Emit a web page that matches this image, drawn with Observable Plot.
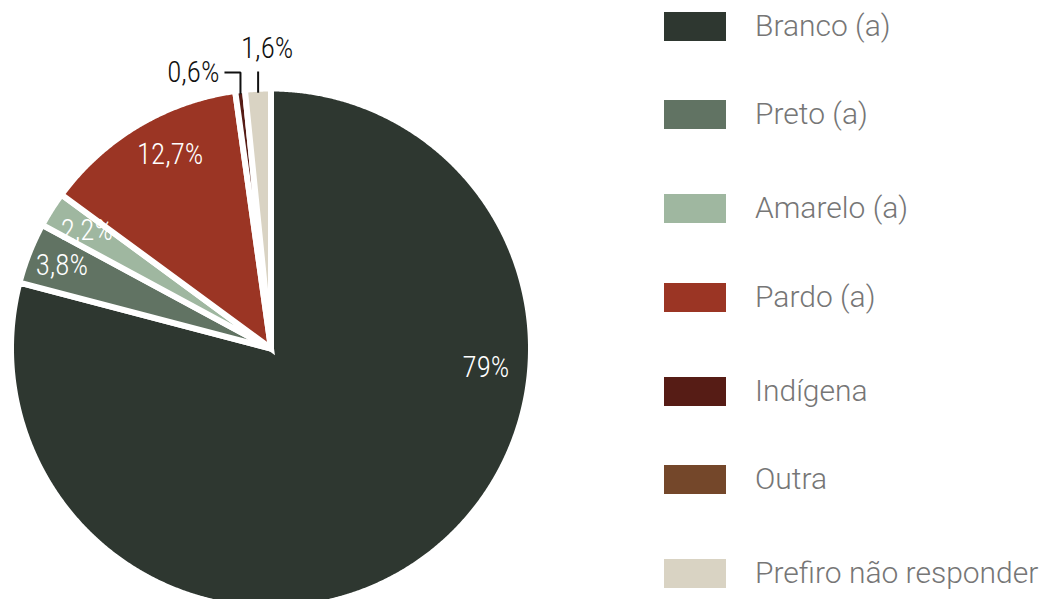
<!DOCTYPE html>
<html>
<head>
<meta charset="utf-8">
<script src="https://cdn.jsdelivr.net/npm/d3@7"></script>
<script src="https://cdn.jsdelivr.net/npm/@observablehq/plot@0.6"></script>
<style>
  html, body { margin: 0; padding: 0; background: #fff; }
  #wrap { position: relative; width: 1046px; height: 599px; overflow: hidden; }
  #legend { position: absolute; left: 664px; top: 12px; font-family: Roboto, Lato, sans-serif; font-weight: 300; }
  .row { position: absolute; left: 0; height: 29px; width: 400px; white-space: nowrap; }
  .sw { position: absolute; left: 0; top: 0; width: 62px; height: 29px; }
  .lb { position: absolute; left: 91px; top: -6px; font-size: 30px; line-height: 40px; color: #767676; }
</style>
</head>
<body>
<div id="wrap"><div id="chart"></div><div id="legend"></div></div>
<script>
// ---- data ----
const categories = ["Branco (a)", "Preto (a)", "Amarelo (a)", "Pardo (a)", "Indígena", "Outra", "Prefiro não responder"];
const values = [79, 3.8, 2.2, 12.7, 0.6, 0, 1.6];
const labels = ["79%", "3,8%", "2,2%", "12,7%", "0,6%", "", "1,6%"];
const colors = ["#2e3730", "#617363", "#9fb7a0", "#9b3524", "#561c15", "#74472a", "#d9d3c3"];

// ---- layout (pixels / polar placement) ----
const W = 1046, H = 599, CX = 270.5, CY = 348, R = 260;
// label placement: angle (deg clockwise from 12 o'clock, null = slice middle), radius fraction
const labelAngle = [95, null, 302.5, 332.5, null, null, null];
const labelRadius = [0.83, 0.865, 0.84, 0.84, null, null, null];

const rows = categories.map((c, i) => ({cat: c, value: values[i], label: labels[i], color: colors[i], i}));
const arcs = d3.pie().sort(null).value(d => d.value).startAngle(0).endAngle(2 * Math.PI)(rows);
const polar = (a, r) => [r * Math.sin(a), r * Math.cos(a)];

// slice outlines
const slicePts = [];
for (const a of arcs) {
  if (a.data.value <= 0) continue;
  slicePts.push({cat: a.data.cat, x: 0, y: 0});
  const n = Math.max(4, Math.ceil((a.endAngle - a.startAngle) / 0.005));
  for (let k = 0; k <= n; k++) {
    const t = a.startAngle + (a.endAngle - a.startAngle) * k / n;
    const [x, y] = polar(t, 1);
    slicePts.push({cat: a.data.cat, x, y});
  }
}

const inside = [], outside = [], leaders = [];
arcs.forEach(a => {
  const i = a.data.i;
  if (!a.data.label) return;
  const mid = (a.startAngle + a.endAngle) / 2;
  if (labelRadius[i] != null) {
    const ang = labelAngle[i] != null ? labelAngle[i] * Math.PI / 180 : mid;
    const [x, y] = polar(ang, labelRadius[i]);
    inside.push({x, y, label: a.data.label});
  }
});
// outside labels with leader lines (Indígena, Prefiro)
{
  const a = arcs[4], mid = (a.startAngle + a.endAngle) / 2;
  const [x0, y0] = polar(mid, 0.985);
  const yl = 276 / R;
  leaders.push({k: "ind", x: x0, y: y0}, {k: "ind", x: x0, y: yl}, {k: "ind", x: x0 - 16 / R, y: yl});
  outside.push({x: x0 - 21 / R, y: yl, label: a.data.label, anchor: "end"});
}
{
  const a = arcs[6], mid = (a.startAngle + a.endAngle) / 2;
  const [x0, y0] = polar(mid, 0.985);
  leaders.push({k: "pref", x: x0, y: y0}, {k: "pref", x: x0, y: 277 / R});
  outside.push({x: x0 + 9 / R, y: 300 / R, label: a.data.label, anchor: "middle"});
}

const labelFont = "'Roboto Condensed', 'DejaVu Sans Condensed', sans-serif";

const chart = Plot.plot({
  width: W, height: H,
  margin: 0,
  x: {domain: [-CX / R, (W - CX) / R], range: [0, W], axis: null},
  y: {domain: [-(H - CY) / R, CY / R], range: [H, 0], axis: null},
  color: {domain: categories, range: colors},
  style: {background: "transparent", overflow: "visible"},
  marks: [
    Plot.line(slicePts, {x: "x", y: "y", z: "cat", fill: "cat", stroke: "white", strokeWidth: 6, curve: "linear-closed", strokeLinejoin: "miter", strokeMiterlimit: 4}),
    Plot.line(leaders, {x: "x", y: "y", z: "k", stroke: "#111", strokeWidth: 2, strokeLinejoin: "miter", strokeLinecap: "butt"}),
    Plot.text(inside, {x: "x", y: "y", text: "label", fill: "white", fontSize: 29, fontWeight: 300, fontFamily: labelFont}),
    Plot.text(outside, {x: "x", y: "y", text: "label", fill: "#111", fontSize: 29, fontWeight: 300, fontFamily: labelFont, textAnchor: "end", filter: d => d.anchor === "end"}),
    Plot.text(outside, {x: "x", y: "y", text: "label", fill: "#111", fontSize: 29, fontWeight: 300, fontFamily: labelFont, textAnchor: "middle", filter: d => d.anchor === "middle"})
  ]
});
document.getElementById("chart").appendChild(chart);

// legend
const legendTops = [0, 88, 182, 271, 365, 453, 547];
const leg = document.getElementById("legend");
categories.forEach((c, i) => {
  const r = document.createElement("div");
  r.className = "row";
  r.style.top = legendTops[i] + "px";
  r.innerHTML = `<div class="sw" style="background:${colors[i]}"></div><div class="lb">${c}</div>`;
  leg.appendChild(r);
});
</script>
</body>
</html>
